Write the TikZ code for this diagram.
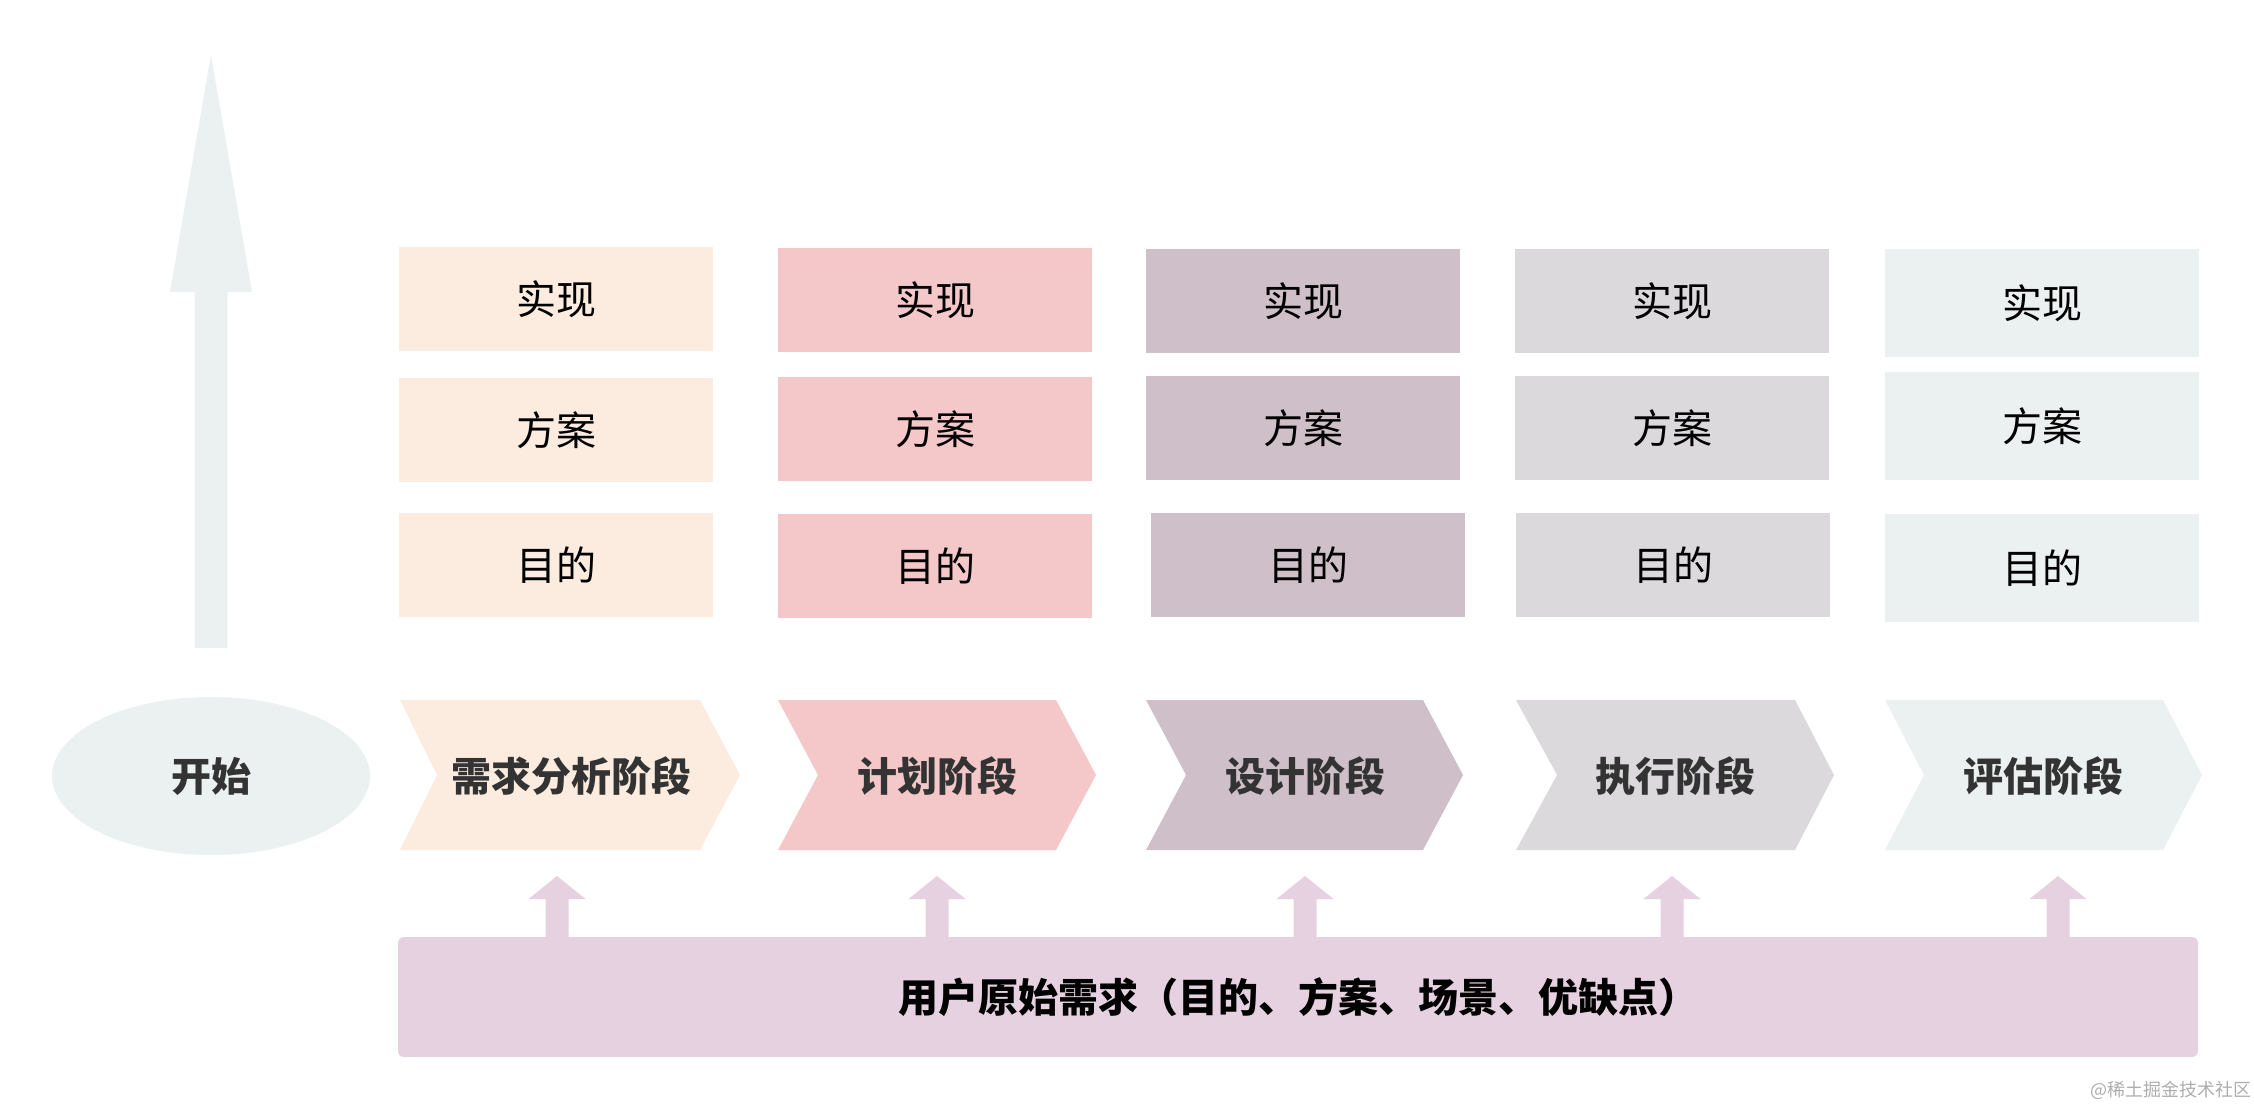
\documentclass[tikz,border=0pt]{standalone}
\usepackage{fontspec}
\setmainfont{Noto Sans CJK SC}
\usetikzlibrary{shapes.geometric}
\definecolor{peach}{HTML}{FBECDF}
\definecolor{rose}{HTML}{F4C7C8}
\definecolor{mauve}{HTML}{CFBFC8}
\definecolor{ash}{HTML}{DBD9DC}
\definecolor{mist}{HTML}{EBF1F0}
\definecolor{lilac}{HTML}{E6D1E0}
\definecolor{ink}{HTML}{333333}
\definecolor{wmgray}{HTML}{ADADAD}

\begin{document}
\begin{tikzpicture}[x=1pt,y=-1pt,
  box/.style={rectangle, minimum width=314pt, minimum height=104pt, inner sep=0pt, text=black, font=\fontsize{40}{46}\selectfont},
  stage/.style={inner sep=0pt, text=ink, font=\fontsize{40}{48}\selectfont\bfseries}]
\useasboundingbox (0,0) rectangle (2254,1108);

% start and the upward arrow
\node[ellipse, fill=mist, minimum width=318pt, minimum height=158pt, inner sep=0pt, text=ink, font=\fontsize{40}{48}\selectfont\bfseries] (start) at (211,776) {开始};
\fill[mist] (start.north) ++(-16.5,-49) -- ++(0,-356) -- ++(-24.5,0) -- ++(41,-237) -- ++(41,237) -- ++(-24.5,0) -- ++(0,356) -- cycle;

% stage chevrons
\fill[peach] (400,700) -- (700,700) -- (740,775) -- (700,850) -- (400,850) -- (437,775) -- cycle;
\node[stage] (st1) at (571,776) {需求分析阶段};
\fill[rose] (778,700) -- (1056,700) -- (1096,775) -- (1056,850) -- (778,850) -- (818,775) -- cycle;
\node[stage] (st2) at (937,776) {计划阶段};
\fill[mauve] (1146,700) -- (1423,700) -- (1463,775) -- (1423,850) -- (1146,850) -- (1186,775) -- cycle;
\node[stage] (st3) at (1305,776) {设计阶段};
\fill[ash] (1516,700) -- (1795,700) -- (1834,775) -- (1795,850) -- (1516,850) -- (1557,775) -- cycle;
\node[stage] (st4) at (1675,776) {执行阶段};
\fill[mist] (1885,700) -- (2163,700) -- (2202,775) -- (2163,850) -- (1885,850) -- (1924,775) -- cycle;
\node[stage] (st5) at (2043,776) {评估阶段};

% boxes above each stage
\node[box, fill=peach] (im1) at (556,299) {实现};
\node[box, fill=peach] (pl1) at (556,430) {方案};
\node[box, fill=peach] (go1) at (556,565) {目的};
\node[box, fill=rose] (im2) at (935,300) {实现};
\node[box, fill=rose] (pl2) at (935,429) {方案};
\node[box, fill=rose] (go2) at (935,566) {目的};
\node[box, fill=mauve] (im3) at (1303,301) {实现};
\node[box, fill=mauve] (pl3) at (1303,428) {方案};
\node[box, fill=mauve] (go3) at (1308,565) {目的};
\node[box, fill=ash] (im4) at (1672,301) {实现};
\node[box, fill=ash] (pl4) at (1672,428) {方案};
\node[box, fill=ash] (go4) at (1673,565) {目的};
\node[box, fill=mist, minimum height=108pt] (im5) at (2042,303) {实现};
\node[box, fill=mist, minimum height=108pt] (pl5) at (2042,426) {方案};
\node[box, fill=mist, minimum height=108pt] (go5) at (2042,568) {目的};

% user requirement bar
\node[fill=lilac, rounded corners=6pt, minimum width=1800pt, minimum height=120pt, inner sep=0pt, text=black, font=\fontsize{40}{46}\selectfont\bfseries] (req) at (1298,997) {用户原始需求（目的、方案、场景、优缺点）};

% arrows from the bar up to the stages
\coordinate (t1) at (557,876);
\coordinate (t2) at (937,876);
\coordinate (t3) at (1305,876);
\coordinate (t4) at (1672,876);
\coordinate (t5) at (2058,876);
\fill[lilac] (t1) -- ++(28.5,23) -- ++(-17,0) -- ++(0,40) -- ++(-23,0) -- ++(0,-40) -- ++(-17,0) -- cycle;
\fill[lilac] (t2) -- ++(28.5,23) -- ++(-17,0) -- ++(0,40) -- ++(-23,0) -- ++(0,-40) -- ++(-17,0) -- cycle;
\fill[lilac] (t3) -- ++(28.5,23) -- ++(-17,0) -- ++(0,40) -- ++(-23,0) -- ++(0,-40) -- ++(-17,0) -- cycle;
\fill[lilac] (t4) -- ++(28.5,23) -- ++(-17,0) -- ++(0,40) -- ++(-23,0) -- ++(0,-40) -- ++(-17,0) -- cycle;
\fill[lilac] (t5) -- ++(28.5,23) -- ++(-17,0) -- ++(0,40) -- ++(-23,0) -- ++(0,-40) -- ++(-17,0) -- cycle;

\node[anchor=east, inner sep=0pt, text=wmgray, font=\fontsize{18}{20}\selectfont] (mark) at (2252,1090) {@稀土掘金技术社区};
\end{tikzpicture}
\end{document}
